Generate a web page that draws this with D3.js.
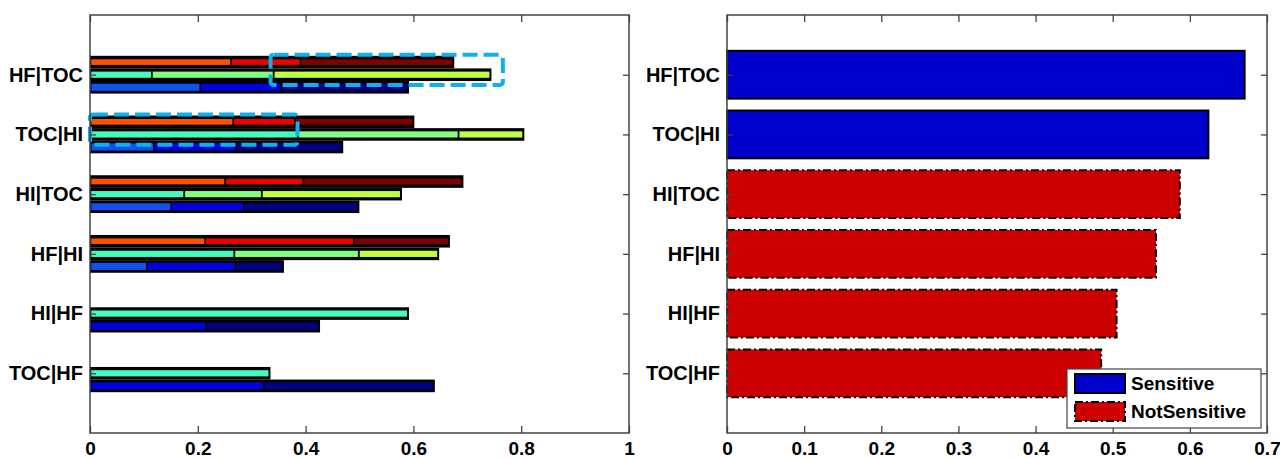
<!DOCTYPE html>
<html><head><meta charset="utf-8">
<script src="https://cdn.jsdelivr.net/npm/d3@7"></script>
<style>body{margin:0;background:#fff}svg{display:block;font-family:"Liberation Sans",Arial,sans-serif}</style>
</head><body><svg id="c" width="1280" height="458"></svg>
<script>
// categories bottom -> top
const categories = ["TOC|HF","HI|HF","HF|HI","HI|TOC","TOC|HI","HF|TOC"];
// left chart: three stacked rows per category, each with three segment widths
const redRow   = [[0,0,0],[0,0,0],[0.213,0.276,0.176],[0.250,0.145,0.295],[0.265,0.115,0.219],[0.261,0.129,0.283]];
const greenRow = [[0.332,0,0],[0.589,0,0],[0.267,0.231,0.147],[0.174,0.144,0.258],[0.385,0.298,0.120],[0.114,0.226,0.402]];
const blueRow  = [[0,0.322,0.315],[0,0.215,0.209],[0.105,0.164,0.088],[0.150,0.135,0.212],[0.118,0.153,0.196],[0.204,0.150,0.235]];
const redColors   = ["#ff5200","#ee0000","#800000"];
const greenColors = ["#44fcc0","#80ff80","#c0ff40"];
const blueColors  = ["#0c52f4","#0000e4","#000080"];
const leftTicks  = [0,0.2,0.4,0.6,0.8,1];
// right chart
const rightValues = [0.485,0.505,0.556,0.587,0.624,0.671];
const rightClass  = ["NotSensitive","NotSensitive","NotSensitive","NotSensitive","Sensitive","Sensitive"];
const rightTicks  = [0,0.1,0.2,0.3,0.4,0.5,0.6,0.7];
const legendItems = ["Sensitive","NotSensitive"];
// highlight boxes (value range, category)
const highlights = [{cat:"HF|TOC",from:0.335,to:0.766},{cat:"TOC|HI",from:0,to:0.385}];

const svg = d3.select("#c");
const yTop = 15, yBot = 433;
const y = d3.scaleLinear().domain([0,7]).range([yBot,yTop]);
const xL = d3.scaleLinear().domain([0,1]).range([90,629]);
const xR = d3.scaleLinear().domain([0,0.7]).range([727,1267]);
const FS = "19px";

function frame(x, ticks, fmt){
  const g = svg.append("g");
  const ax = g.append("g").attr("transform",`translate(0,${yBot})`)
    .call(d3.axisBottom(x).tickValues(ticks).tickFormat(fmt).tickSizeInner(-7).tickSizeOuter(0).tickPadding(8.5));
  ax.select(".domain").remove();
  ax.selectAll("line").attr("stroke","#444").attr("stroke-width",1.3);
  ax.selectAll("text").attr("font-size",FS).attr("font-weight","bold").attr("fill","#000");
  const axT = g.append("g").attr("transform",`translate(0,${yTop})`)
    .call(d3.axisTop(x).tickValues(ticks).tickFormat("").tickSizeInner(-7).tickSizeOuter(0));
  axT.select(".domain").remove();
  axT.selectAll("line").attr("stroke","#444").attr("stroke-width",1.3);
  const x0 = x.range()[0], x1 = x.range()[1];
  const axL = g.append("g").attr("transform",`translate(${x0},0)`)
    .call(d3.axisLeft(y).tickValues(d3.range(1,7)).tickFormat(d=>categories[d-1]).tickSizeInner(-6).tickSizeOuter(0).tickPadding(7));
  axL.select(".domain").remove();
  axL.selectAll("line").attr("stroke","#444").attr("stroke-width",1.3);
  axL.selectAll("text").attr("font-size","20px").attr("font-weight","bold").attr("fill","#000");
  const axRt = g.append("g").attr("transform",`translate(${x1},0)`)
    .call(d3.axisRight(y).tickValues(d3.range(1,7)).tickFormat("").tickSizeInner(-6).tickSizeOuter(0));
  axRt.select(".domain").remove();
  axRt.selectAll("line").attr("stroke","#444").attr("stroke-width",1.3);
  return g;
}
const fmt = d => d===0 ? "0" : d===1 ? "1" : String(+d.toFixed(1));

// ---- left chart
const gl = svg.append("g");
const step = (y(0)-y(1))*0.211;
const rows = [{data:redRow,colors:redColors,off:-1,h:5.6},{data:greenRow,colors:greenColors,off:0,h:6.2},{data:blueRow,colors:blueColors,off:1,h:7}];
rows.forEach(r=>{
  r.data.forEach((segs,i)=>{
    const total = d3.sum(segs);
    if(total<=0) return;
    const cy = y(i+1) + r.off*step;
    gl.append("rect").attr("x",xL(0)).attr("y",cy-step/2).attr("width",xL(total)-xL(0)+1.5).attr("height",step).attr("fill","#000");
    const cum = d3.cumsum(segs);
    segs.forEach((v,j)=>{
      if(v<=0) return;
      const s = cum[j]-v, e = cum[j];
      gl.append("rect").attr("x",xL(s)+1.3).attr("y",cy-r.h/2).attr("width",Math.max(0,xL(e)-xL(s)-1.8)).attr("height",r.h).attr("fill",r.colors[j]);
    });
  });
});
highlights.forEach(h=>{
  const i = categories.indexOf(h.cat);
  const y0 = y(i+1) - step*1.5 - 1, y1 = y(i+1) + step*0.5 + 4;
  gl.append("rect").attr("x",xL(h.from)).attr("y",y0).attr("width",xL(h.to)-xL(h.from)).attr("height",y1-y0)
    .attr("fill","none").attr("stroke","#10b0f0").attr("stroke-width",4).attr("stroke-dasharray","15,6").attr("rx",3);
});
svg.append("rect").attr("x",xL(0)).attr("y",yTop).attr("width",xL(1)-xL(0)).attr("height",yBot-yTop).attr("fill","none").attr("stroke","#444").attr("stroke-width",1.5);
frame(xL, leftTicks, fmt);

// ---- right chart
const gr = svg.append("g");
const bh = (y(0)-y(1))*0.8;
rightValues.forEach((v,i)=>{
  const sens = rightClass[i]==="Sensitive";
  gr.append("rect").attr("x",xR(0)).attr("y",y(i+1)-bh/2).attr("width",xR(v)-xR(0)).attr("height",bh)
    .attr("fill",sens?"#0000cc":"#cc0000").attr("stroke","#000").attr("stroke-width",2)
    .attr("stroke-dasharray",sens?null:"8,3,2,3");
});
svg.append("rect").attr("x",xR(0)).attr("y",yTop).attr("width",xR(0.7)-xR(0)).attr("height",yBot-yTop).attr("fill","none").attr("stroke","#444").attr("stroke-width",1.5);
frame(xR, rightTicks, fmt);

// legend
const lg = svg.append("g");
lg.append("rect").attr("x",1067).attr("y",369).attr("width",194).attr("height",59).attr("fill","#fff").attr("stroke","#444").attr("stroke-width",1.2);
legendItems.forEach((t,k)=>{
  const sens = t==="Sensitive";
  lg.append("rect").attr("x",1075).attr("y",374+k*28).attr("width",50).attr("height",19)
    .attr("fill",sens?"#0000cc":"#cc0000").attr("stroke","#000").attr("stroke-width",2).attr("stroke-dasharray",sens?null:"8,3,2,3");
  lg.append("text").attr("x",1131).attr("y",390+k*28).attr("font-size",FS).attr("font-weight","bold").text(t);
});
</script></body></html>
